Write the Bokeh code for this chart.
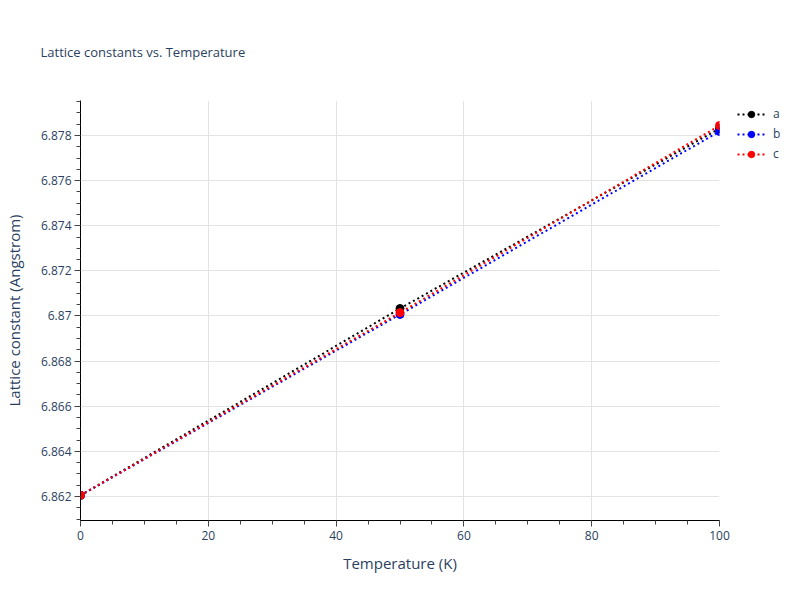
from bokeh.plotting import figure
from bokeh.embed import file_html
from bokeh.resources import INLINE
from bokeh.models import (Range1d, Legend, LegendItem, CustomJSTickFormatter,
                          FixedTicker, Title)

temperature = [0, 50, 100]
a_vals = [6.86205, 6.87033, 6.87831]
b_vals = [6.86205, 6.87007, 6.87818]
c_vals = [6.86205, 6.87015, 6.87844]
series_names = ["a", "b", "c"]
series_colors = ["black", "blue", "red"]
x_ticks = [0, 20, 40, 60, 80, 100]
y_ticks = [6.862, 6.864, 6.866, 6.868, 6.870, 6.872, 6.874, 6.876, 6.878]

FONT = "Open Sans"
TXT = "#2a3f5f"

p = figure(frame_width=639, frame_height=420, output_backend="svg", toolbar_location=None,
           x_range=Range1d(0, 100), y_range=Range1d(6.860936, 6.879551),
           min_border_left=80, min_border_right=65, min_border_top=100,
           min_border_bottom=64)
p.title = Title(text="Lattice constants vs. Temperature", text_font=FONT,
                text_font_size="13px", text_color=TXT, text_font_style="normal",
                align="left", offset=-40, standoff=80)
p.outline_line_color = None
p.background_fill_color = "white"
p.border_fill_color = "white"

items = []
for vals, name, col in zip([a_vals, b_vals, c_vals], series_names, series_colors):
    r1 = p.line(temperature, vals, line_color=col, line_width=2, line_dash="2 3")
    r2 = p.scatter(temperature, vals, size=8, fill_color=col, line_color=col)
    items.append(LegendItem(label=name, renderers=[r1, r2]))

legend = Legend(items=items, location=(18, 358), label_text_font=FONT,
                label_text_font_size="12px", label_text_color=TXT,
                border_line_color=None, background_fill_alpha=0,
                glyph_width=28, glyph_height=16, label_height=16, spacing=3,
                padding=0, margin=0, label_standoff=8)
p.add_layout(legend, "right")

for ax in (p.xaxis, p.yaxis):
    ax.axis_line_color = "black"
    ax.axis_line_width = 1
    ax.major_tick_line_color = "#444444"
    ax.minor_tick_line_color = "#444444"
    ax.major_tick_out = 6
    ax.major_tick_in = 0
    ax.minor_tick_out = 4
    ax.minor_tick_in = 0
    ax.major_label_text_font = FONT
    ax.major_label_text_font_size = "12px"
    ax.major_label_text_color = TXT
    ax.axis_label_text_font = FONT
    ax.axis_label_text_font_size = "15px"
    ax.axis_label_text_color = TXT
    ax.axis_label_text_font_style = "normal"

p.xaxis.ticker = FixedTicker(ticks=x_ticks, minor_ticks=list(range(0, 101, 5)))
minor_y = [round(6.8610 + 0.0005 * i, 4) for i in range(38)]
p.yaxis.ticker = FixedTicker(ticks=y_ticks, minor_ticks=minor_y)
p.yaxis.formatter = CustomJSTickFormatter(code="return parseFloat(tick.toFixed(4)).toString();")
p.xaxis.axis_label = "Temperature (K)"
p.yaxis.axis_label = "Lattice constant (Angstrom)"
p.xaxis.major_label_standoff = 4
p.yaxis.major_label_standoff = 3
p.xaxis.axis_label_standoff = 10
p.yaxis.axis_label_standoff = 14

p.xgrid.grid_line_color = "#e3e3e3"
p.ygrid.grid_line_color = "#e3e3e3"
p.xgrid.grid_line_width = 1
p.ygrid.grid_line_width = 1

open("out.html", "w").write(file_html(p, INLINE))
